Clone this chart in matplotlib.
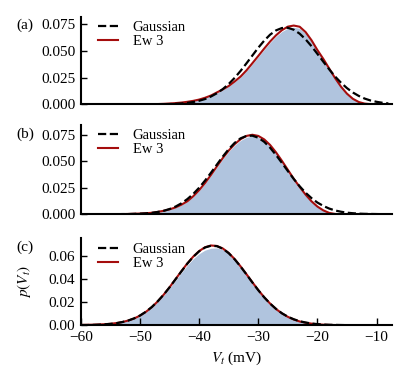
import numpy as np
import matplotlib
matplotlib.use('Agg')
import matplotlib.pyplot as plt

plt.rcParams['font.family'] = ['Liberation Serif', 'DejaVu Serif']
plt.rcParams['mathtext.fontset'] = 'stix'

# membrane potential grid (mV), one value per mV
v = np.arange(-60, -7, 1.0)

# panel (a)
hist_a = [0, 0, 0, 0, 0, 0, 0, 0, 0, 0, 0, 0.0001, 0.0002, 0.0003, 0.0005, 0.0008,
          0.0011, 0.0016, 0.0023, 0.0032, 0.0044, 0.0060, 0.0081, 0.0109, 0.0137,
          0.0169, 0.0210, 0.0255, 0.0312, 0.0378, 0.0445, 0.0513, 0.0578, 0.0635,
          0.0681, 0.0712, 0.0721, 0.0711, 0.0662, 0.0591, 0.0501, 0.0418, 0.0329,
          0.0240, 0.0161, 0.0097, 0.0050, 0.0021, 0.0007, 0.0002, 0, 0, 0]
gauss_a = [0, 0, 0, 0, 0, 0, 0, 0, 0, 0, 0, 0, 0.0001, 0.0001, 0.0002, 0.0003,
           0.0005, 0.0008, 0.0014, 0.0022, 0.0034, 0.0050, 0.0074, 0.0104, 0.0143,
           0.0191, 0.0248, 0.0313, 0.0384, 0.0457, 0.0530, 0.0596, 0.0652, 0.0692,
           0.0714, 0.0716, 0.0698, 0.0661, 0.0608, 0.0544, 0.0472, 0.0399, 0.0327,
           0.0260, 0.0202, 0.0152, 0.0111, 0.0079, 0.0054, 0.0036, 0.0024, 0.0015, 0.0009]
ew3_a = [0, 0, 0, 0, 0, 0, 0, 0, 0, 0, 0, 0.0001, 0.0002, 0.0003, 0.0005, 0.0008,
         0.0012, 0.0017, 0.0024, 0.0033, 0.0045, 0.0062, 0.0083, 0.0112, 0.0140,
         0.0172, 0.0214, 0.0260, 0.0318, 0.0385, 0.0453, 0.0522, 0.0588, 0.0646,
         0.0694, 0.0727, 0.0737, 0.0726, 0.0676, 0.0600, 0.0508, 0.0425, 0.0335,
         0.0245, 0.0165, 0.0100, 0.0052, 0.0022, 0.0007, 0.0002, 0, 0, 0]

# panel (b)
hist_b = [0, 0, 0, 0, 0, 0, 0, 0.0001, 0.0002, 0.0004, 0.0006, 0.0009, 0.0013,
          0.0021, 0.0031, 0.0045, 0.0062, 0.0087, 0.0119, 0.0166, 0.0223, 0.0290,
          0.0365, 0.0445, 0.0523, 0.0593, 0.0652, 0.0698, 0.0728, 0.0739, 0.0729,
          0.0697, 0.0645, 0.0576, 0.0497, 0.0413, 0.0329, 0.0253, 0.0181, 0.0119,
          0.0070, 0.0035, 0.0012, 0.0002, 0, 0, 0, 0, 0, 0, 0, 0, 0]
gauss_b = [0, 0, 0, 0, 0, 0, 0, 0.0001, 0.0001, 0.0003, 0.0005, 0.0008, 0.0013,
           0.0021, 0.0032, 0.0049, 0.0072, 0.0103, 0.0143, 0.0192, 0.0251, 0.0319,
           0.0393, 0.0470, 0.0546, 0.0616, 0.0675, 0.0718, 0.0741, 0.0743, 0.0724,
           0.0685, 0.0629, 0.0560, 0.0485, 0.0408, 0.0333, 0.0264, 0.0203, 0.0152,
           0.0110, 0.0078, 0.0053, 0.0035, 0.0023, 0.0014, 0.0009, 0.0005, 0.0003,
           0.0002, 0.0001, 0, 0]
ew3_b = [0, 0, 0, 0, 0, 0, 0, 0.0001, 0.0002, 0.0004, 0.0006, 0.0009, 0.0013,
         0.0022, 0.0032, 0.0046, 0.0064, 0.0090, 0.0122, 0.0170, 0.0228, 0.0296,
         0.0372, 0.0453, 0.0532, 0.0603, 0.0663, 0.0710, 0.0741, 0.0752, 0.0741,
         0.0708, 0.0655, 0.0585, 0.0505, 0.0420, 0.0335, 0.0258, 0.0185, 0.0122,
         0.0072, 0.0036, 0.0012, 0.0002, 0, 0, 0, 0, 0, 0, 0, 0, 0]

# panel (c)
hist_c = [0.0001, 0.0001, 0.0002, 0.0004, 0.0007, 0.0011, 0.0017, 0.0026, 0.0039,
          0.0058, 0.0082, 0.0115, 0.0155, 0.0204, 0.0260, 0.0322, 0.0389, 0.0456,
          0.0520, 0.0576, 0.0620, 0.0651, 0.0667, 0.0670, 0.0655, 0.0620, 0.0569,
          0.0507, 0.0439, 0.0369, 0.0302, 0.0240, 0.0186, 0.0140, 0.0102, 0.0072,
          0.0050, 0.0033, 0.0022, 0.0013, 0.0008, 0.0004, 0.0002, 0.0001,
          0, 0, 0, 0, 0, 0, 0, 0, 0]
gauss_c = [0.0001, 0.0001, 0.0002, 0.0004, 0.0007, 0.0011, 0.0017, 0.0027, 0.0040,
           0.0059, 0.0084, 0.0117, 0.0158, 0.0208, 0.0265, 0.0329, 0.0398, 0.0467,
           0.0534, 0.0593, 0.0641, 0.0674, 0.0689, 0.0685, 0.0663, 0.0624, 0.0571,
           0.0508, 0.0440, 0.0370, 0.0303, 0.0241, 0.0187, 0.0141, 0.0103, 0.0073,
           0.0051, 0.0034, 0.0023, 0.0014, 0.0009, 0.0005, 0.0003, 0.0002, 0.0001,
           0, 0, 0, 0, 0, 0, 0, 0]
ew3_c = [0.0002, 0.0003, 0.0004, 0.0006, 0.0008, 0.0012, 0.0018, 0.0027, 0.0040,
         0.0058, 0.0083, 0.0116, 0.0157, 0.0207, 0.0265, 0.0330, 0.0399, 0.0469,
         0.0536, 0.0595, 0.0643, 0.0676, 0.0691, 0.0687, 0.0665, 0.0626, 0.0573,
         0.0510, 0.0442, 0.0372, 0.0304, 0.0242, 0.0187, 0.0140, 0.0102, 0.0072,
         0.0049, 0.0032, 0.0021, 0.0013, 0.0008, 0.0004, 0.0002, 0.0001,
         0, 0, 0, 0, 0, 0, 0, 0, 0]

panels = ['(a)', '(b)', '(c)']
hists = [hist_a, hist_b, hist_c]
gausses = [gauss_a, gauss_b, gauss_c]
ew3s = [ew3_a, ew3_b, ew3_c]
y_ticks = [[0, 0.025, 0.05, 0.075], [0, 0.025, 0.05, 0.075], [0, 0.02, 0.04, 0.06]]
y_fmt = ['{:.3f}', '{:.3f}', '{:.2f}']
y_top = [0.082, 0.0845, 0.0754]

# axes boxes in figure fractions [left, bottom, width, height]
boxes = [[0.1985, 0.731, 0.762, 0.226],
         [0.1985, 0.448, 0.762, 0.230],
         [0.1985, 0.162, 0.762, 0.224]]

fig = plt.figure(figsize=(4.08, 3.88), dpi=100)
for i in range(3):
    ax = fig.add_axes(boxes[i])
    ax.fill_between(v, hists[i], color='#b0c4de', linewidth=0, zorder=1)
    ax.plot(v, gausses[i], color='black', linestyle='--', linewidth=1.6, label='Gaussian', zorder=3)
    ax.plot(v, ew3s[i], color='#a50d0d', linewidth=1.5, label='Ew 3', zorder=2)
    ax.set_xlim(-60, -7.4)
    ax.set_ylim(0, y_top[i])
    ax.set_yticks(y_ticks[i])
    ax.set_yticklabels([y_fmt[i].format(t) for t in y_ticks[i]])
    for s in ['top', 'right']:
        ax.spines[s].set_visible(False)
    for s in ['left', 'bottom']:
        ax.spines[s].set_linewidth(1.5)
        ax.spines[s].set_zorder(5)
    ax.tick_params(direction='in', length=4, width=1, labelsize=11, pad=4)
    ax.legend(loc='upper left', frameon=False, fontsize=10.5, handlelength=1.4,
              handletextpad=1.0, labelspacing=0.05, borderaxespad=0.2,
              bbox_to_anchor=(0.025, 1.05))
    ax.text(-0.18, 0.9, panels[i], transform=ax.transAxes, ha='center', va='center', fontsize=11)
    if i < 2:
        ax.tick_params(axis='x', bottom=False, labelbottom=False)
    else:
        ax.set_xticks([-60, -50, -40, -30, -20, -10])
        ax.tick_params(axis='x', length=5)
        ax.set_xlabel('$V_t$ (mV)', fontsize=11, labelpad=4)
        ax.set_ylabel('$p(V_t)$', fontsize=11)
        ax.yaxis.set_label_coords(-0.155, 0.5)

plt.savefig('out.png', dpi=100)
